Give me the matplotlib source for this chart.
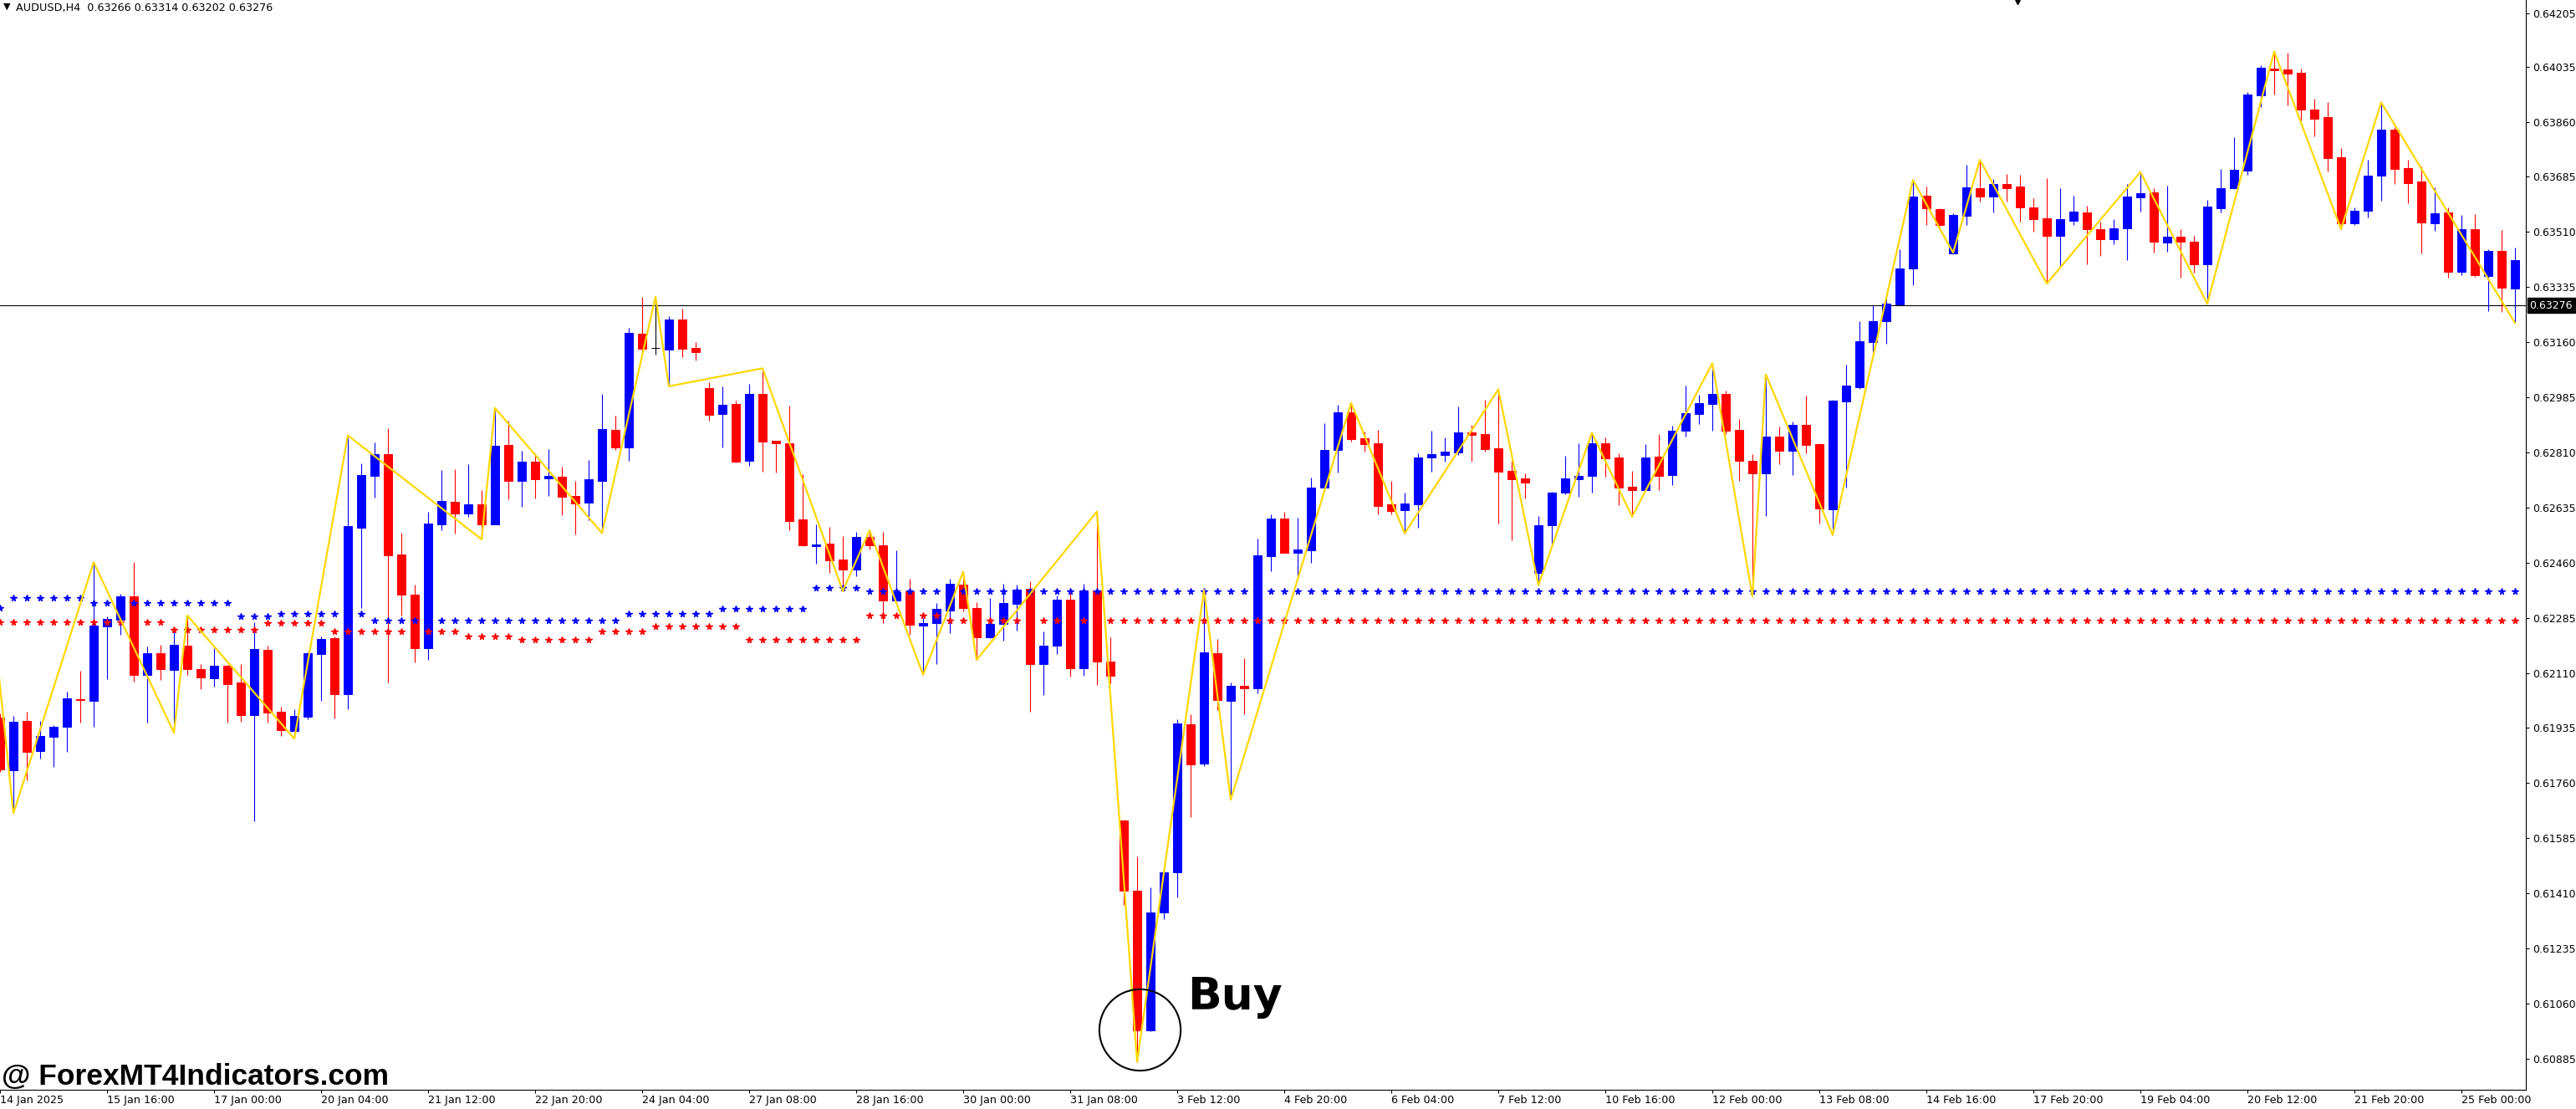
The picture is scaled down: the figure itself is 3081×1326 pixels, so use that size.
import numpy as np
import matplotlib
matplotlib.use('Agg')
import matplotlib.pyplot as plt

# AUDUSD H4 candles (one per bar, left to right)
opens = [0.61969, 0.61802, 0.61957, 0.61863, 0.61908, 0.61938, 0.62027, 0.62022, 0.62258, 0.62280,
         0.62353, 0.62104, 0.62173, 0.62119, 0.62196, 0.62122, 0.62093, 0.62133, 0.62080, 0.61976,
         0.62183, 0.61987, 0.61926, 0.61971, 0.62170, 0.62220, 0.62042, 0.62571, 0.62736, 0.62805,
         0.62486, 0.62359, 0.62188, 0.62582, 0.62653, 0.62616, 0.62645, 0.62582, 0.62834, 0.62719,
         0.62781, 0.62728, 0.62733, 0.62672, 0.62651, 0.62719, 0.62881, 0.62826, 0.63187, 0.63141,
         0.63136, 0.63232, 0.63142, 0.63014, 0.62932, 0.62964, 0.62783, 0.62996, 0.62847, 0.62839,
         0.62597, 0.62512, 0.62520, 0.62470, 0.62439, 0.62541, 0.62515, 0.62341, 0.62369, 0.62259,
         0.62269, 0.62308, 0.62390, 0.62315, 0.62224, 0.62266, 0.62329, 0.62377, 0.62137, 0.62196,
         0.62342, 0.62124, 0.62372, 0.62146, 0.61641, 0.61418, 0.60976, 0.61348, 0.61476, 0.61947,
         0.61822, 0.62173, 0.62022, 0.62069, 0.62061, 0.62481, 0.62600, 0.62492, 0.62500, 0.62697,
         0.62818, 0.62937, 0.62855, 0.62839, 0.62645, 0.62627, 0.62646, 0.62795, 0.62803, 0.62811,
         0.62874, 0.62868, 0.62823, 0.62751, 0.62728, 0.62428, 0.62580, 0.62681, 0.62726, 0.62736,
         0.62839, 0.62794, 0.62701, 0.62691, 0.62797, 0.62739, 0.62880, 0.62933, 0.62965, 0.62995,
         0.62881, 0.62784, 0.62744, 0.62860, 0.62816, 0.62897, 0.62837, 0.62629, 0.62973, 0.63017,
         0.63161, 0.63227, 0.63281, 0.63395, 0.63625, 0.63583, 0.63442, 0.63562, 0.63649, 0.63622,
         0.63662, 0.63655, 0.63588, 0.63553, 0.63498, 0.63546, 0.63572, 0.63519, 0.63488, 0.63521,
         0.63620, 0.63636, 0.63477, 0.63495, 0.63479, 0.63407, 0.63585, 0.63649, 0.63706, 0.63945,
         0.64029, 0.64026, 0.64015, 0.63899, 0.63875, 0.63747, 0.63538, 0.63578, 0.63690, 0.63835,
         0.63713, 0.63670, 0.63538, 0.63572, 0.63384, 0.63519, 0.63371, 0.63450, 0.63331]
highs = [0.61980, 0.61973, 0.61987, 0.61957, 0.61945, 0.62051, 0.62118, 0.62461, 0.62290, 0.62361,
         0.62462, 0.62195, 0.62200, 0.62246, 0.62290, 0.62138, 0.62189, 0.62135, 0.62138, 0.62271,
         0.62196, 0.62003, 0.61995, 0.62175, 0.62226, 0.62226, 0.62864, 0.62775, 0.62842, 0.62886,
         0.62555, 0.62390, 0.62621, 0.62754, 0.62757, 0.62773, 0.62690, 0.62950, 0.62910, 0.62815,
         0.62807, 0.62820, 0.62765, 0.62719, 0.62786, 0.62996, 0.62927, 0.63205, 0.63304, 0.63301,
         0.63243, 0.63267, 0.63160, 0.63033, 0.63020, 0.62974, 0.63028, 0.63077, 0.62847, 0.62958,
         0.62741, 0.62581, 0.62573, 0.62544, 0.62557, 0.62562, 0.62557, 0.62498, 0.62409, 0.62285,
         0.62332, 0.62408, 0.62431, 0.62334, 0.62348, 0.62393, 0.62390, 0.62402, 0.62242, 0.62355,
         0.62373, 0.62393, 0.62618, 0.62223, 0.61644, 0.61526, 0.61429, 0.61493, 0.61964, 0.61978,
         0.62373, 0.62217, 0.62079, 0.62157, 0.62536, 0.62613, 0.62621, 0.62603, 0.62730, 0.62903,
         0.62961, 0.62967, 0.62876, 0.62882, 0.62720, 0.62682, 0.62807, 0.62879, 0.62858, 0.62956,
         0.62897, 0.62977, 0.63010, 0.62783, 0.62743, 0.62608, 0.62686, 0.62799, 0.62839, 0.62872,
         0.62858, 0.62807, 0.62751, 0.62836, 0.62868, 0.62895, 0.63021, 0.62993, 0.63093, 0.63006,
         0.62916, 0.62804, 0.63056, 0.62892, 0.62908, 0.62990, 0.62840, 0.62978, 0.63089, 0.63226,
         0.63277, 0.63317, 0.63455, 0.63675, 0.63655, 0.63585, 0.63569, 0.63723, 0.63739, 0.63678,
         0.63694, 0.63692, 0.63617, 0.63681, 0.63649, 0.63625, 0.63594, 0.63543, 0.63551, 0.63662,
         0.63700, 0.63649, 0.63657, 0.63519, 0.63498, 0.63612, 0.63710, 0.63811, 0.63954, 0.64039,
         0.64083, 0.64079, 0.64029, 0.63933, 0.63922, 0.63777, 0.63588, 0.63739, 0.63921, 0.63843,
         0.63739, 0.63718, 0.63652, 0.63588, 0.63564, 0.63567, 0.63455, 0.63516, 0.63460]
lows = [0.61795, 0.61666, 0.61770, 0.61839, 0.61810, 0.61859, 0.61952, 0.61939, 0.62091, 0.62232,
        0.62083, 0.61952, 0.62088, 0.61922, 0.62104, 0.62058, 0.62065, 0.61952, 0.61956, 0.61640,
        0.61952, 0.61910, 0.61903, 0.61963, 0.62021, 0.61965, 0.61995, 0.62316, 0.62666, 0.62080,
        0.62292, 0.62142, 0.62151, 0.62563, 0.62552, 0.62605, 0.62535, 0.62581, 0.62662, 0.62638,
        0.62665, 0.62673, 0.62611, 0.62550, 0.62596, 0.62554, 0.62818, 0.62783, 0.63127, 0.63121,
        0.63023, 0.63113, 0.63103, 0.62912, 0.62826, 0.62779, 0.62767, 0.62750, 0.62746, 0.62563,
        0.62513, 0.62457, 0.62427, 0.62370, 0.62418, 0.62501, 0.62268, 0.62338, 0.62230, 0.62104,
        0.62137, 0.62237, 0.62306, 0.62151, 0.62220, 0.62213, 0.62243, 0.61987, 0.62039, 0.62171,
        0.62099, 0.62102, 0.62072, 0.62077, 0.61374, 0.60875, 0.60971, 0.61329, 0.61397, 0.61652,
        0.61815, 0.61992, 0.61707, 0.61979, 0.62046, 0.62434, 0.62490, 0.62414, 0.62458, 0.62695,
        0.62746, 0.62843, 0.62813, 0.62613, 0.62612, 0.62553, 0.62571, 0.62750, 0.62781, 0.62803,
        0.62781, 0.62813, 0.62585, 0.62532, 0.62664, 0.62388, 0.62520, 0.62678, 0.62669, 0.62681,
        0.62734, 0.62643, 0.62606, 0.62689, 0.62691, 0.62707, 0.62861, 0.62900, 0.62879, 0.62867,
        0.62720, 0.62352, 0.62609, 0.62773, 0.62739, 0.62806, 0.62583, 0.62548, 0.62697, 0.63011,
        0.63124, 0.63156, 0.63279, 0.63342, 0.63533, 0.63529, 0.63440, 0.63533, 0.63607, 0.63573,
        0.63607, 0.63544, 0.63512, 0.63346, 0.63403, 0.63533, 0.63408, 0.63434, 0.63472, 0.63421,
        0.63575, 0.63445, 0.63448, 0.63366, 0.63382, 0.63282, 0.63573, 0.63645, 0.63692, 0.63907,
        0.63947, 0.63913, 0.63864, 0.63814, 0.63703, 0.63519, 0.63533, 0.63557, 0.63610, 0.63663,
        0.63602, 0.63443, 0.63514, 0.63366, 0.63374, 0.63368, 0.63259, 0.63257, 0.63223]
closes = [0.61803, 0.61954, 0.61859, 0.61910, 0.61939, 0.62029, 0.62025, 0.62259, 0.62281, 0.62353,
          0.62104, 0.62173, 0.62123, 0.62199, 0.62123, 0.62096, 0.62133, 0.62075, 0.61976, 0.62186,
          0.61985, 0.61929, 0.61973, 0.62173, 0.62218, 0.62042, 0.62576, 0.62738, 0.62805, 0.62484,
          0.62359, 0.62188, 0.62584, 0.62656, 0.62616, 0.62645, 0.62582, 0.62831, 0.62719, 0.62781,
          0.62725, 0.62735, 0.62669, 0.62649, 0.62725, 0.62884, 0.62826, 0.63190, 0.63139, 0.63141,
          0.63232, 0.63139, 0.63129, 0.62930, 0.62961, 0.62781, 0.62996, 0.62844, 0.62839, 0.62592,
          0.62515, 0.62518, 0.62467, 0.62438, 0.62541, 0.62515, 0.62339, 0.62367, 0.62262, 0.62268,
          0.62313, 0.62393, 0.62315, 0.62224, 0.62265, 0.62332, 0.62374, 0.62139, 0.62196, 0.62342,
          0.62124, 0.62372, 0.62147, 0.62102, 0.61417, 0.60976, 0.61349, 0.61476, 0.61950, 0.61820,
          0.62175, 0.62024, 0.62069, 0.62062, 0.62484, 0.62600, 0.62492, 0.62502, 0.62698, 0.62818,
          0.62937, 0.62853, 0.62837, 0.62641, 0.62625, 0.62648, 0.62794, 0.62805, 0.62813, 0.62874,
          0.62866, 0.62821, 0.62750, 0.62726, 0.62715, 0.62579, 0.62682, 0.62728, 0.62735, 0.62839,
          0.62792, 0.62697, 0.62689, 0.62794, 0.62736, 0.62879, 0.62935, 0.62967, 0.62995, 0.62879,
          0.62784, 0.62744, 0.62860, 0.62816, 0.62897, 0.62834, 0.62633, 0.62975, 0.63022, 0.63163,
          0.63226, 0.63282, 0.63394, 0.63622, 0.63584, 0.63531, 0.63564, 0.63652, 0.63622, 0.63662,
          0.63650, 0.63589, 0.63551, 0.63498, 0.63550, 0.63575, 0.63520, 0.63488, 0.63521, 0.63622,
          0.63633, 0.63480, 0.63495, 0.63480, 0.63406, 0.63591, 0.63649, 0.63707, 0.63946, 0.64031,
          0.64024, 0.64014, 0.63899, 0.63870, 0.63745, 0.63538, 0.63577, 0.63689, 0.63835, 0.63710,
          0.63666, 0.63541, 0.63569, 0.63384, 0.63519, 0.63374, 0.63450, 0.63334, 0.63421]

# ZigZag pivots (bar index, price)
zz_bars = [-1, 1, 7, 13, 14, 22, 26, 36, 37, 45, 49, 50, 57, 63, 65, 69, 72, 73, 82, 85,
           90, 92, 101, 105, 112, 115, 119, 122, 128, 131, 132, 137, 143, 146, 148, 153,
           160, 165, 170, 175, 178, 188]
zz_prices = [0.62475, 0.61664, 0.62461, 0.61920, 0.62292, 0.61901, 0.62864, 0.62534, 0.62951,
             0.62554, 0.63304, 0.63020, 0.63077, 0.62370, 0.62562, 0.62104, 0.62431, 0.62151,
             0.62622, 0.60875, 0.62373, 0.61707, 0.62967, 0.62553, 0.63010, 0.62388, 0.62872,
             0.62606, 0.63093, 0.62352, 0.63058, 0.62548, 0.63675, 0.63444, 0.63739, 0.63346,
             0.63700, 0.63282, 0.64083, 0.63519, 0.63921, 0.63221]

# star levels: first bar of each run and its level
res_start = [0, 1, 7, 18, 21, 28, 47, 54, 61, 65]
res_level = [0.62317, 0.62349, 0.62333, 0.62288, 0.62298, 0.62277, 0.62297, 0.62314, 0.62379, 0.62370]
sup_start = [0, 13, 20, 25, 35, 39, 45, 49, 56, 65, 71]
sup_level = [0.62271, 0.62248, 0.62268, 0.62242, 0.62226, 0.62216, 0.62242, 0.62257, 0.62216,
             0.62293, 0.62277]

x_labels = ['14 Jan 2025', '15 Jan 16:00', '17 Jan 00:00', '20 Jan 04:00', '21 Jan 12:00',
            '22 Jan 20:00', '24 Jan 04:00', '27 Jan 08:00', '28 Jan 16:00', '30 Jan 00:00',
            '31 Jan 08:00', '3 Feb 12:00', '4 Feb 20:00', '6 Feb 04:00', '7 Feb 12:00',
            '10 Feb 16:00', '12 Feb 00:00', '13 Feb 08:00', '14 Feb 16:00', '17 Feb 20:00',
            '19 Feb 04:00', '20 Feb 12:00', '21 Feb 20:00', '25 Feb 00:00']
y_ticks = [0.64205, 0.64035, 0.63860, 0.63685, 0.63510, 0.63335, 0.63160, 0.62985, 0.62810,
           0.62635, 0.62460, 0.62285, 0.62110, 0.61935, 0.61760, 0.61585, 0.61410, 0.61235,
           0.61060, 0.60885]

last_price = 0.63276
header = 'AUDUSD,H4  0.63266 0.63314 0.63202 0.63276'
signal_bar = 85.2
signal_price = 0.60978

o = np.array(opens)
h = np.array(highs)
l = np.array(lows)
c = np.array(closes)
n = len(o)
x = np.arange(n)
col = np.where(c > o, 'blue', np.where(c < o, 'red', 'black'))

res = np.repeat(res_level, np.diff(res_start + [n]))
sup = np.repeat(sup_level, np.diff(sup_start + [n]))

W, H = 3081, 1326
fig = plt.figure(figsize=(W / 100, H / 100), dpi=100)
ax = fig.add_axes([0, 23 / H, 3021 / W, 1303 / H])

ax.axhline(last_price, color='black', lw=0.8, zorder=1)
ax.vlines(x, l, h, colors=col, lw=0.8, zorder=2)
body = np.where(c == o, 1e-6, c - o)
ax.bar(x, body, bottom=o, width=0.64, color=col, edgecolor=col, lw=0.7, zorder=3)

ax.plot(x, res, ls='none', marker='*', ms=5.5, color='blue', zorder=4)
ax.plot(x, sup, ls='none', marker='*', ms=5.5, color='red', zorder=4)
ax.plot(zz_bars, zz_prices, color='#FFD700', lw=1.6, zorder=5)

ax.plot([signal_bar], [signal_price], marker='o', ms=70, mfc='none', mec='black', mew=1.5, zorder=6)
ax.text(88.75, 0.61041, 'Buy', fontsize=38.5, fontweight='bold', va='baseline', ha='left', zorder=7)

ax.set_xlim(0, 3021 / 16)
ax.set_ylim(0.607863, 0.642464)

for s in ['top', 'left']:
    ax.spines[s].set_visible(False)
for s in ['right', 'bottom']:
    ax.spines[s].set_linewidth(0.8)

ax.yaxis.tick_right()
ax.set_yticks(y_ticks)
ax.set_yticklabels(['%.5f' % v for v in y_ticks])
ax.tick_params(axis='y', length=3, width=0.8, pad=3, labelsize=9)
ax.set_xticks([0] + list(range(8, 185, 8)))
ax.set_xticklabels(x_labels, ha='left')
ax.tick_params(axis='x', length=3, width=0.8, pad=1, labelsize=9.2)

ax.text(1.0015, last_price, '%.5f' % last_price, transform=ax.get_yaxis_transform(),
        color='white', fontsize=9, va='center', ha='left', clip_on=False, zorder=10,
        bbox=dict(boxstyle='square,pad=0.2', fc='black', ec='black'))

ax.plot([2413 / 16], [0.64241], marker='v', ms=5, color='black', zorder=8)

fig.text(4 / W, 1 - 8 / H, '\u25bc', fontsize=8, va='center', ha='left')
fig.text(19 / W, 1 - 9 / H, header, fontsize=9.2, va='center', ha='left')
fig.text(2 / W, 1 - 1297 / H, '@ ForexMT4Indicators.com', fontsize=25.5, fontweight='bold',
         family='Liberation Sans', va='baseline', ha='left')

fig.savefig('out.png', dpi=100, facecolor='white')
